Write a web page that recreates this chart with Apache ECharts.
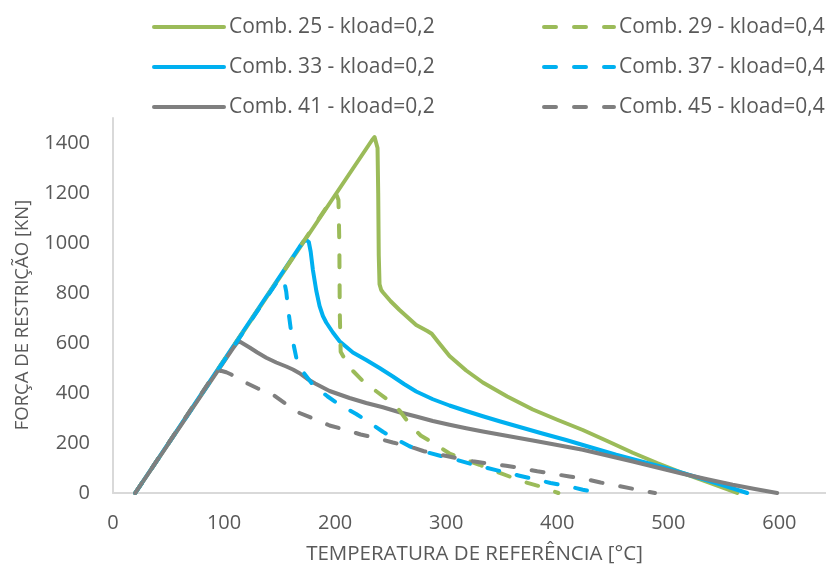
<!DOCTYPE html>
<html>
<head>
<meta charset="utf-8">
<script src="https://cdn.jsdelivr.net/npm/echarts@6/dist/echarts.min.js"></script>
<style>html,body{margin:0;padding:0;background:#fff;}#c{width:826px;height:571px;}</style>
</head>
<body>
<div id="c"></div>
<script>
const seriesNames = ['Comb. 25 - kload=0,2','Comb. 33 - kload=0,2','Comb. 41 - kload=0,2','Comb. 29 - kload=0,4','Comb. 37 - kload=0,4','Comb. 45 - kload=0,4'];
const xTicks = [0,100,200,300,400,500,600];
const yTicks = [0,200,400,600,800,1000,1200,1400];

const comb25 = [[20,0],[233,1410],[235.5,1424],[237,1418],[238.2,1380],[238.8,1200],[239.3,950],[240,835],[241.5,812],[243,803],[250,767],[258,732],[273,672],[283,648],[287,637],[293,603],[303,548],[318,490],[333,442],[355,386],[378,334],[400,293],[423,252],[445,208],[468,161],[490,120],[513,80],[538,40],[562,0]];
const comb33 = [[20,0],[168,985],[171.5,1006],[174,1012],[176.3,1004],[178,965],[180,892],[183,810],[186,748],[189,708],[192,682],[198,642],[204,607],[216,562],[228,532],[240,500],[252,466],[262,436],[273,406],[288,375],[303,350],[318,328],[333,307],[348,287],[363,268],[385,240],[408,212],[430,183],[453,153],[475,127],[498,100],[513,80],[528,60],[550,30],[571,0]];
const comb41 = [[20,0],[108,578],[111.5,600],[114,606],[117,598],[123,582],[130,562],[138,541],[147,522],[156,506],[162,494],[168,479],[175,456],[182,438],[195,408],[213,380],[228,360],[243,343],[258,323],[273,306],[288,288],[303,273],[318,259],[333,246],[348,234],[378,210],[400,192],[423,173],[445,150],[468,126],[490,102],[513,77],[535,55],[558,33],[578,16],[598,0]];
const comb29 = [[20,0],[194,1155],[199,1187],[201.5,1190],[203,1172],[203.8,1000],[204.2,720],[205,565],[213,502],[225,448],[237,407],[249,368],[258,330],[268,270],[277,230],[291,193],[303,158],[318,132],[330,113],[345,86],[357,66],[372,42],[385,26],[401,0]];
const comb37 = [[20,0],[147,840],[150,857],[152,860],[154,850],[156,805],[158,725],[160.4,645],[163,585],[165,542],[168,507],[172,479],[180,433],[193,387],[204,353],[219,316],[230,285],[243,245],[252,222],[267,187],[280,166],[297,146],[309,133],[325,113],[337,100],[354,82],[366,69],[382,53],[394,40],[411,26],[423,13],[438,0]];
const comb45 = [[20,0],[92,480],[95,488],[98,488],[102,483],[106,475],[117,447],[130,419],[144,393],[156,355],[168,320],[183,293],[195,270],[210,252],[223,234],[238,219],[252,202],[267,186],[280,167],[295,153],[309,140],[324,127],[339,117],[354,109],[367,100],[382,87],[396,77],[411,66],[424,57],[439,42],[453,30],[469,16],[488,0]];

const GREEN = '#9BBB59', BLUE = '#00B0F0', GRAY = '#7F7F7F';
const FONT = 'Open Sans';
const TXT = '#595959';

function mk(name, data, color, dashed) {
  return {
    name: name, type: 'line', data: data, symbol: 'none', smooth: false,
    lineStyle: { color: color, width: 4, type: dashed ? [12, 18] : 'solid', cap: 'round', join: 'round' },
    itemStyle: { color: color },
    z: dashed ? 3 : 2
  };
}

const legendCommon = {
  orient: 'vertical', top: 11, itemWidth: 70, itemHeight: 14, itemGap: 18,
  itemStyle: { opacity: 0 },
  lineStyle: { width: 4 },
  textStyle: { fontFamily: FONT, fontSize: 21, color: TXT, lineHeight: 22 }
};

const chart = echarts.init(document.getElementById('c'), null, { renderer: 'canvas' });
chart.setOption({
  animation: false,
  backgroundColor: '#fff',
  grid: { left: 113, right: 0, top: 118, bottom: 78, containLabel: false },
  legend: [
    Object.assign({ data: [seriesNames[0], seriesNames[1], seriesNames[2]], left: 147 }, legendCommon),
    Object.assign({ data: [seriesNames[3], seriesNames[4], seriesNames[5]], left: 537 }, legendCommon)
  ],
  xAxis: {
    type: 'value', min: 0, max: 642, interval: 100,
    name: 'TEMPERATURA DE REFERÊNCIA [°C]', nameLocation: 'middle', nameGap: 51,
    nameTextStyle: { fontFamily: FONT, fontSize: 20.5, color: TXT, padding: [0, 0, 0, 10] },
    axisLine: { show: true, lineStyle: { color: '#D9D9D9', width: 2 } },
    axisTick: { show: false }, splitLine: { show: false },
    axisLabel: { margin: 20, fontFamily: FONT, fontSize: 20, color: TXT, showMaxLabel: false,
      formatter: v => xTicks.indexOf(v) >= 0 ? String(v) : '' }
  },
  yAxis: {
    type: 'value', min: 0, max: 1500, interval: 200,
    name: 'FORÇA DE RESTRIÇÃO [KN]', nameLocation: 'middle', nameGap: 81,
    nameTextStyle: { fontFamily: FONT, fontSize: 18.5, color: TXT, padding: [0, 19, 0, 0] },
    axisLine: { show: true, lineStyle: { color: '#D9D9D9', width: 2 } },
    axisTick: { show: false }, splitLine: { show: false },
    axisLabel: { margin: 23, fontFamily: FONT, fontSize: 20, color: TXT, showMaxLabel: false,
      formatter: v => yTicks.indexOf(v) >= 0 ? String(v) : '' }
  },
  series: [
    mk(seriesNames[0], comb25, GREEN, false),
    mk(seriesNames[1], comb33, BLUE, false),
    mk(seriesNames[2], comb41, GRAY, false),
    mk(seriesNames[3], comb29, GREEN, true),
    mk(seriesNames[4], comb37, BLUE, true),
    mk(seriesNames[5], comb45, GRAY, true)
  ]
});
</script>
</body>
</html>
